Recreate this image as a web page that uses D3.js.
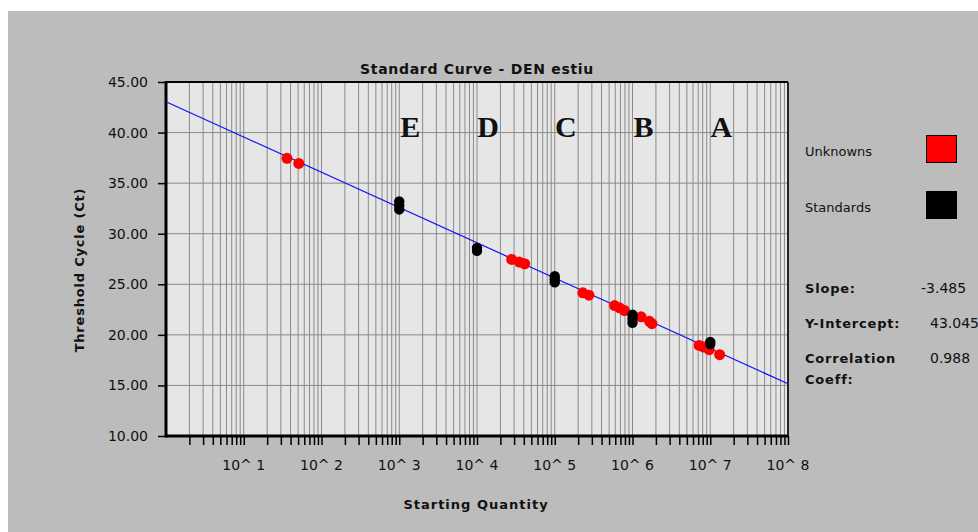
<!DOCTYPE html>
<html>
    <head>
        <title>Standard Curve - DEN estiu</title>
        <script src="https://cdn.jsdelivr.net/npm/d3@7/dist/d3.min.js"></script>
        <style type="text/css">
            html, body {
                margin: 0;
                padding: 0;
                background: #fff;
            }
            text { font-family: "DejaVu Sans", Verdana, sans-serif; fill: #111; }
            .bold { font-weight: bold; }
        </style>
    </head>
    <body>
        <svg id="chart" width="978" height="532"></svg>
        <script>
            // ---------- data
            var yTicks = [10, 15, 20, 25, 30, 35, 40, 45];
            var decades = [1, 2, 3, 4, 5, 6, 7, 8];
            var letters = ["E", "D", "C", "B", "A"];
            var letterQty = [1e3, 1e4, 1e5, 1e6, 1e7];

            var stdQty = [1e3, 1e3, 1e3, 1e4, 1e4, 1e5, 1e5, 1e5, 1e6, 1e6, 1e6, 1e7, 1e7];
            var stdCt  = [33.2, 32.8, 32.4, 28.6, 28.3, 25.8, 25.5, 25.2, 22.0, 21.6, 21.2, 19.3, 19.1];

            var unkQty = [36, 51, 27900, 35000, 41000, 230000, 275000, 589000, 681000, 789000,
                          1.29e6, 1.65e6, 1.78e6, 7.2e6, 8.2e6, 9.7e6, 1.32e7];
            var unkCt  = [37.45, 36.95, 27.46, 27.2, 27.03, 24.16, 23.92, 22.9, 22.67, 22.4,
                          21.78, 21.34, 21.1, 18.96, 18.8, 18.53, 18.04];

            var slope = -3.485, intercept = 43.045, corr = 0.988;

            // ---------- layout
            var svg = d3.select("#chart");
            var L = 166, R = 788, T = 82, B = 436;

            var x = d3.scaleLog().domain([1, 1e8]).range([L, R]);
            var y = d3.scaleLinear().domain([10, 45]).range([B, T]);

            svg.append("rect").attr("x", 8).attr("y", 11).attr("width", 970).attr("height", 521)
                .attr("fill", "#bcbcbc");

            svg.append("rect").attr("x", L).attr("y", T).attr("width", R - L).attr("height", B - T)
                .attr("fill", "#e6e6e6");

            // minor + major positions
            var xGrid = [];
            decades.forEach(function(d) {
                for (var m = 2; m <= 10; m++) xGrid.push(m * Math.pow(10, d - 1));
            });

            svg.append("g").selectAll("line").data(xGrid).enter().append("line")
                .attr("x1", function(d) { return x(d); }).attr("x2", function(d) { return x(d); })
                .attr("y1", T).attr("y2", B)
                .attr("stroke", "#8a8a8a").attr("stroke-width", 1);

            svg.append("g").selectAll("line").data(yTicks.slice(1, -1)).enter().append("line")
                .attr("x1", L).attr("x2", R)
                .attr("y1", function(d) { return y(d); }).attr("y2", function(d) { return y(d); })
                .attr("stroke", "#8a8a8a").attr("stroke-width", 1);

            // axes
            var yAxis = d3.axisLeft(y).tickValues(yTicks).tickSize(8).tickPadding(10)
                .tickFormat(d3.format(".2f"));
            var gy = svg.append("g").attr("transform", "translate(" + L + ",0)").call(yAxis);
            gy.select(".domain").remove();
            gy.selectAll("line").attr("stroke", "#000").attr("stroke-width", 1.5);
            gy.selectAll("text").attr("font-family", "DejaVu Sans").attr("font-size", 14)
                .attr("fill", "#111");

            var xAxis = d3.axisBottom(x).tickValues(xGrid).tickSize(9).tickFormat("");
            var gx = svg.append("g").attr("transform", "translate(0," + B + ")").call(xAxis);
            gx.select(".domain").remove();
            gx.selectAll("line").attr("stroke", "#000").attr("stroke-width", 1.5);

            svg.append("g").selectAll("text").data(decades).enter().append("text")
                .attr("x", function(d) { return x(Math.pow(10, d)); })
                .attr("y", 470)
                .attr("text-anchor", "middle")
                .attr("font-size", 14)
                .text(function(d) { return "10^ " + d; });

            // frame
            svg.append("line").attr("x1", L).attr("x2", R).attr("y1", T).attr("y2", T)
                .attr("stroke", "#000").attr("stroke-width", 2);
            svg.append("line").attr("x1", R).attr("x2", R).attr("y1", T).attr("y2", B)
                .attr("stroke", "#222").attr("stroke-width", 2);
            svg.append("line").attr("x1", L).attr("x2", L).attr("y1", T - 1).attr("y2", B + 1.5)
                .attr("stroke", "#000").attr("stroke-width", 3);
            svg.append("line").attr("x1", L).attr("x2", R).attr("y1", B).attr("y2", B)
                .attr("stroke", "#000").attr("stroke-width", 3);

            // regression line
            var lineData = [1, 1e8];
            svg.append("path")
                .datum(lineData)
                .attr("d", d3.line()
                    .x(function(d) { return x(d); })
                    .y(function(d) { return y(intercept + slope * Math.log10(d)); }))
                .attr("stroke", "#1010ff").attr("stroke-width", 1.2).attr("fill", "none");

            // points
            svg.append("g").selectAll("circle").data(unkQty).enter().append("circle")
                .attr("cx", function(d) { return x(d); })
                .attr("cy", function(d, i) { return y(unkCt[i]); })
                .attr("r", 5.5).attr("fill", "#ff0000");

            svg.append("g").selectAll("circle").data(stdQty).enter().append("circle")
                .attr("cx", function(d) { return x(d); })
                .attr("cy", function(d, i) { return y(stdCt[i]); })
                .attr("r", 5.2).attr("fill", "#000");

            // letter labels
            svg.append("g").selectAll("text").data(letters).enter().append("text")
                .attr("x", function(d, i) { return x(letterQty[i]) + 11; })
                .attr("y", 137)
                .attr("text-anchor", "middle")
                .attr("font-weight", "bold")
                .attr("font-size", 30)
                .style("font-family", "'Liberation Serif', serif")
                .text(function(d) { return d; });

            // titles
            svg.append("text").attr("class", "bold").attr("x", 477).attr("y", 74)
                .attr("text-anchor", "middle").attr("font-size", 14).attr("letter-spacing", 0.7)
                .text("Standard Curve - DEN estiu");
            svg.append("text").attr("class", "bold").attr("x", 476).attr("y", 509)
                .attr("text-anchor", "middle").attr("font-size", 13).attr("letter-spacing", 1)
                .text("Starting Quantity");
            svg.append("text").attr("class", "bold")
                .attr("transform", "translate(84,270) rotate(-90)")
                .attr("text-anchor", "middle").attr("font-size", 13).attr("letter-spacing", 0.8)
                .text("Threshold Cycle (Ct)");

            // legend
            var legend = [["Unknowns", "#ff0000", 151], ["Standards", "#000", 207]];
            legend.forEach(function(l) {
                svg.append("text").attr("x", 805).attr("y", l[2] + 5).attr("font-size", 13).text(l[0]);
                svg.append("rect").attr("x", 926.5).attr("y", l[2] - 15.5).attr("width", 30).attr("height", 27)
                    .attr("fill", l[1]).attr("stroke", "#000").attr("stroke-width", 1);
            });

            // stats
            var stats = [["Slope:", slope.toFixed(3), 288, 921], ["Y-Intercept:", intercept.toFixed(3), 323, 930],
                         ["Correlation", corr.toFixed(3), 358, 930]];
            stats.forEach(function(s) {
                svg.append("text").attr("class", "bold").attr("x", 805).attr("y", s[2] + 5)
                    .attr("font-size", 13).attr("letter-spacing", 0.8).text(s[0]);
                svg.append("text").attr("x", s[3]).attr("y", s[2] + 5).attr("font-size", 14).text(s[1]);
            });
            svg.append("text").attr("class", "bold").attr("x", 805).attr("y", 384)
                .attr("font-size", 13).attr("letter-spacing", 0.8).text("Coeff:");
        </script>
    </body>
</html>
